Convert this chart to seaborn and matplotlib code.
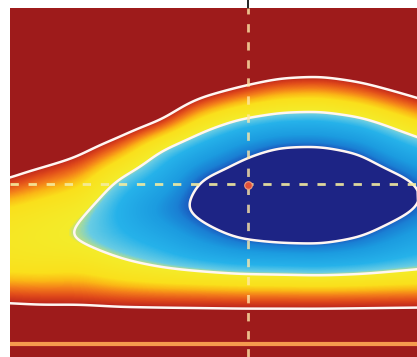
import numpy as np
import pandas as pd
import matplotlib
matplotlib.use("Agg")
import matplotlib.pyplot as plt
from matplotlib.colors import LinearSegmentedColormap, Normalize
import seaborn as sns

# grid nodes (image pixel coordinates) and the level read at each node
x_nodes = [0, 40, 80, 120, 160, 200, 240, 280, 320, 360, 400, 440, 480]
y_nodes = [0, 30, 60, 90, 120, 150, 180, 210, 240, 270, 300, 330, 360]
level_rows = [
    [5.16, 5.18, 5.70, 5.84, 5.44, 5.04, 4.78, 4.64, 4.60, 4.70, 4.90, 5.16, 5.40],
    [4.81, 4.79, 5.18, 5.24, 4.84, 4.44, 4.18, 4.04, 4.00, 4.10, 4.30, 4.56, 4.80],
    [4.46, 4.41, 4.67, 4.64, 4.24, 3.84, 3.58, 3.44, 3.40, 3.50, 3.70, 3.96, 4.20],
    [4.11, 4.02, 4.15, 4.04, 3.64, 3.24, 2.97, 2.73, 2.68, 2.84, 3.10, 3.36, 3.60],
    [3.76, 3.64, 3.64, 3.44, 3.10, 2.36, 1.95, 1.76, 1.73, 1.91, 2.29, 2.65, 3.00],
    [3.41, 3.35, 3.12, 2.69, 1.94, 1.53, 1.10, 0.85, 0.83, 1.00, 1.50, 1.87, 2.14],
    [3.08, 2.78, 2.55, 1.89, 1.57, 0.92, 0.77, 0.65, 0.63, 0.65, 0.84, 1.16, 1.60],
    [2.35, 2.20, 2.05, 1.62, 1.12, 0.86, 0.71, 0.63, 0.62, 0.65, 0.85, 1.12, 1.52],
    [2.15, 2.05, 1.93, 1.77, 1.58, 1.20, 0.92, 0.82, 0.80, 0.98, 1.32, 1.65, 1.80],
    [2.30, 2.28, 2.35, 2.14, 2.00, 1.93, 1.85, 1.83, 1.79, 1.84, 1.93, 1.98, 2.05],
    [3.00, 2.95, 2.92, 2.90, 2.90, 2.90, 2.90, 2.90, 2.90, 2.90, 2.90, 2.90, 2.90],
    [3.38, 3.38, 3.46, 3.40, 3.38, 3.36, 3.34, 3.34, 3.34, 3.36, 3.38, 3.40, 3.42],
    [3.76, 3.79, 3.98, 4.08, 4.06, 4.04, 4.02, 4.02, 4.04, 4.04, 4.06, 4.08, 4.10],
]
contour_levels = [1, 2, 3]
centre_x = [248]
centre_y = [185]
crosshair_y = 184
baseline_y = 344

field = pd.DataFrame(level_rows, index=y_nodes, columns=x_nodes)

# colour ramp: navy inside level 1, blue->cyan up to 2, yellow->red up to 3, dark red outside
navy = "#1d2485"
dark_red = "#9e1b1b"
ramp = [
    (0.0, navy), (0.999, navy),
    (1.0, "#1a5cc0"), (1.1, "#1a80d4"), (1.3, "#1c9ce0"), (1.7, "#26b2ea"),
    (1.92, "#68cce4"), (2.0, "#c0e080"), (2.02, "#f4ec2a"), (2.4, "#fae01c"),
    (2.55, "#fbb816"), (2.7, "#f37c1a"), (2.85, "#e04a1a"), (2.97, "#c42c1c"),
    (3.0, "#b0221c"), (3.001, dark_red), (6.5, dark_red),
]
vmax = 6.5
cmap = LinearSegmentedColormap.from_list("band", [(v / vmax, c) for v, c in ramp], N=1024)
cmap.set_under(navy)
cmap.set_over(dark_red)


def blur(a, sigma, axis):
    r = int(3 * sigma)
    k = np.exp(-0.5 * (np.arange(-r, r + 1) / sigma) ** 2)
    k /= k.sum()
    pad = [(0, 0), (0, 0)]
    pad[axis] = (r, r)
    a = np.pad(a, pad, mode="edge")
    return np.apply_along_axis(lambda v: np.convolve(v, k, mode="valid"), axis, a)


# resample the node table onto a 1px raster and soften the grid seams
xf = np.arange(-10, 470, 1.0)
yf = np.arange(-10, 380, 1.0)
cols = np.array([np.interp(yf, field.index.values, field[c].values) for c in field.columns]).T
zf = np.array([np.interp(xf, field.columns.values, row) for row in cols])
zf = blur(blur(zf, 11, 0), 11, 1)

sns.set_theme(style="white")
fig = plt.figure(figsize=(4.17, 3.57), dpi=100)
ax = fig.add_axes([10 / 417, 0, 407 / 417, 349 / 357])

ax.imshow(zf, extent=(xf[0] - 0.5, xf[-1] + 0.5, yf[-1] + 0.5, yf[0] - 0.5),
          origin="upper", cmap=cmap, norm=Normalize(0, vmax), aspect="auto",
          interpolation="bilinear")
ax.contour(xf, yf, zf, levels=contour_levels, colors="#fff6f2", linewidths=1.8)

# crosshair through the optimum
ax.axhline(crosshair_y, color="#f4eca0", lw=2.0, ls=(0, (3, 3.5)), alpha=0.9, zorder=4)
ax.axvline(centre_x[0], color="#ffe8a8", lw=2.0, ls=(0, (3, 3.5)), alpha=0.8, zorder=4)
sns.scatterplot(x=centre_x, y=centre_y, s=30, color="#e0503a", edgecolor="#f0a080",
                linewidth=0.8, ax=ax, zorder=5)
ax.axhline(baseline_y, color="#f59b4e", lw=3, zorder=4)
ax.plot([centre_x[0], centre_x[0]], [0, 8], color="black", lw=1.2, clip_on=False)

ax.set_xlim(10, 417)
ax.set_ylim(357, 8)
ax.set_axis_off()

plt.savefig("out.png", dpi=100)
